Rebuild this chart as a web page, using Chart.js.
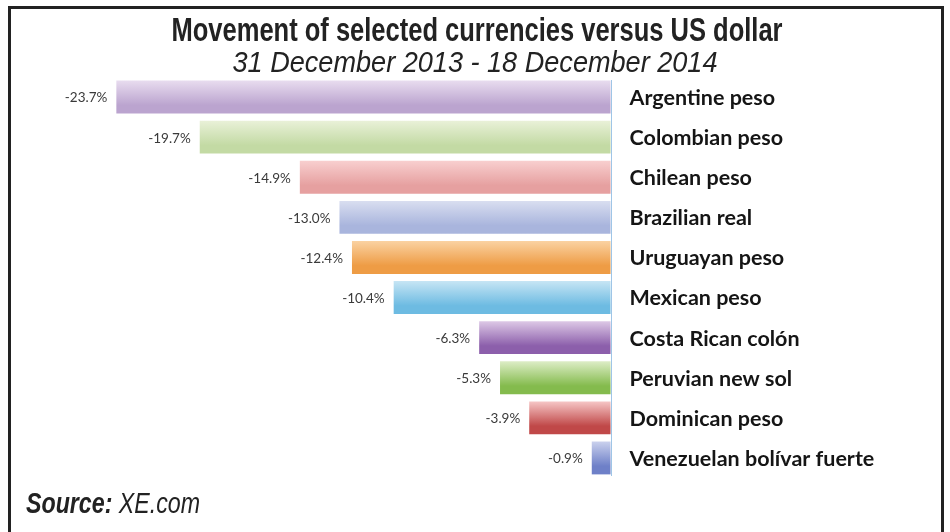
<!DOCTYPE html>
<html>
<head>
<meta charset="utf-8">
<title>Movement of selected currencies versus US dollar</title>
<script src="https://cdn.jsdelivr.net/npm/chart.js@4.4.1/dist/chart.umd.min.js"></script>
<style>
    html, body { margin: 0; padding: 0; background: #fff; }
    #wrap { position: relative; width: 950px; height: 532px; overflow: hidden; }
    #frame {
        position: absolute; left: 8px; top: 6px; width: 936px; height: 540px;
        border: 3px solid #222; border-bottom: none; box-sizing: border-box;
        pointer-events: none;
    }
    #chart { position: absolute; left: 0; top: 0; }
</style>
</head>
<body>
<div id="wrap">
    <div id="frame"></div>
    <canvas id="chart" width="950" height="532"></canvas>
</div>
<script>
// Change of each currency against the US dollar, 31 Dec 2013 - 18 Dec 2014 (%)
const currencies = [
    'Argentine peso', 'Colombian peso', 'Chilean peso', 'Brazilian real',
    'Uruguayan peso', 'Mexican peso', 'Costa Rican colón', 'Peruvian new sol',
    'Dominican peso', 'Venezuelan bolívar fuerte',
];
const changePct = [-23.7, -19.7, -14.9, -13.0, -12.4, -10.4, -6.3, -5.3, -3.9, -0.9];

const TITLE = 'Movement of selected currencies versus US dollar';
const SUBTITLE = '31 December 2013 - 18 December 2014';
const SOURCE_LABEL = 'Source:';
const SOURCE_TEXT = ' XE.com';

// top / bottom shade of each bar (Excel-style vertical gradient)
const barShades = [
    ['#e8dcef', '#bba4cf'],
    ['#e9f1d8', '#c3daa4'],
    ['#f8cfcf', '#e6a0a0'],
    ['#d9def0', '#a9b5dd'],
    ['#fad2a2', '#ee9c45'],
    ['#c6e5f4', '#6dbbe2'],
    ['#ddc8e6', '#8c5fab'],
    ['#ddedc6', '#84bb4d'],
    ['#f6c6c6', '#c04848'],
    ['#cad1ed', '#6e80c8'],
];

// The reference uses a condensed grotesque; no narrow face is installed, so
// Liberation Sans is squeezed horizontally to the same widths.
const HEAD_FONT = '"Liberation Sans", Arial, sans-serif';
const LABEL_FONT = 'Lato, "Open Sans", sans-serif';
const BAR_FILL = 0.82;

function barGradient(context) {
    if (context.type !== 'data') return '#ccc';
    const chart = context.chart;
    const shades = barShades[context.dataIndex];
    const yScale = chart.scales.y;
    const area = chart.chartArea;
    if (!yScale || !area) return shades[1];
    const yc = yScale.getPixelForValue(context.dataIndex);
    const half = (area.height / currencies.length) * BAR_FILL / 2;
    const g = chart.ctx.createLinearGradient(0, yc - half, 0, yc + half);
    g.addColorStop(0, shades[0]);
    g.addColorStop(0.75, shades[1]);
    g.addColorStop(1, shades[1]);
    return g;
}

// draw a run of [text, font] pieces squeezed to targetWidth, starting at x
function drawSqueezed(ctx, pieces, x, y, targetWidth, align) {
    let natural = 0;
    pieces.forEach(([text, font]) => { ctx.font = font; natural += ctx.measureText(text).width; });
    const k = targetWidth / natural;
    const left = align === 'center' ? x - targetWidth / 2 : x;
    ctx.save();
    ctx.translate(left, y);
    ctx.scale(k, 1);
    ctx.textAlign = 'left';
    ctx.textBaseline = 'alphabetic';
    let cx = 0;
    pieces.forEach(([text, font]) => {
        ctx.font = font;
        ctx.fillText(text, cx, 0);
        cx += ctx.measureText(text).width;
    });
    ctx.restore();
}

const labelsPlugin = {
    id: 'barLabels',
    beforeDatasetsDraw(chart) {
        const { ctx, chartArea, scales: { x } } = chart;
        const zero = Math.round(x.getPixelForValue(0)) + 0.5;
        ctx.save();
        ctx.strokeStyle = '#9fc5e6';
        ctx.lineWidth = 1;
        ctx.beginPath();
        ctx.moveTo(zero, chartArea.top + 3);
        ctx.lineTo(zero, chartArea.bottom - 2);
        ctx.stroke();
        ctx.restore();
    },
    afterDatasetsDraw(chart) {
        const { ctx, scales: { x } } = chart;
        const zero = x.getPixelForValue(0);
        const meta = chart.getDatasetMeta(0);
        ctx.save();
        ctx.textBaseline = 'middle';
        meta.data.forEach((bar, i) => {
            ctx.font = '13.5px ' + LABEL_FONT;
            ctx.fillStyle = '#3a3a3a';
            ctx.textAlign = 'right';
            ctx.fillText(changePct[i].toFixed(1) + '%', bar.x - 9, bar.y + 1);

            ctx.font = 'bold 21.5px ' + LABEL_FONT;
            ctx.fillStyle = '#151515';
            ctx.textAlign = 'left';
            ctx.fillText(currencies[i], zero + 19, bar.y + 1);
        });

        ctx.fillStyle = '#222';
        drawSqueezed(ctx, [[TITLE, 'bold 33px ' + HEAD_FONT]], 477, 41, 611, 'center');
        drawSqueezed(ctx, [[SUBTITLE, 'italic 29px ' + HEAD_FONT]], 475, 72, 485, 'center');
        drawSqueezed(ctx, [
            [SOURCE_LABEL, 'italic bold 30px ' + HEAD_FONT],
            [SOURCE_TEXT, 'italic 30px ' + HEAD_FONT],
        ], 26, 513, 174, 'left');
        ctx.restore();
    },
};

new Chart(document.getElementById('chart'), {
    type: 'bar',
    data: {
        labels: currencies,
        datasets: [{
            data: changePct,
            backgroundColor: barGradient,
            borderWidth: 0,
            barPercentage: BAR_FILL,
            categoryPercentage: 1,
        }],
    },
    options: {
        indexAxis: 'y',
        responsive: false,
        animation: false,
        layout: { padding: { left: 10, right: 10, top: 77, bottom: 54 } },
        scales: {
            x: { type: 'linear', min: -28.8, max: 15.8, display: false },
            y: { display: false },
        },
        plugins: {
            legend: { display: false },
            tooltip: { enabled: false },
            title: { display: false },
            subtitle: { display: false },
        },
    },
    plugins: [labelsPlugin],
});
</script>
</body>
</html>
